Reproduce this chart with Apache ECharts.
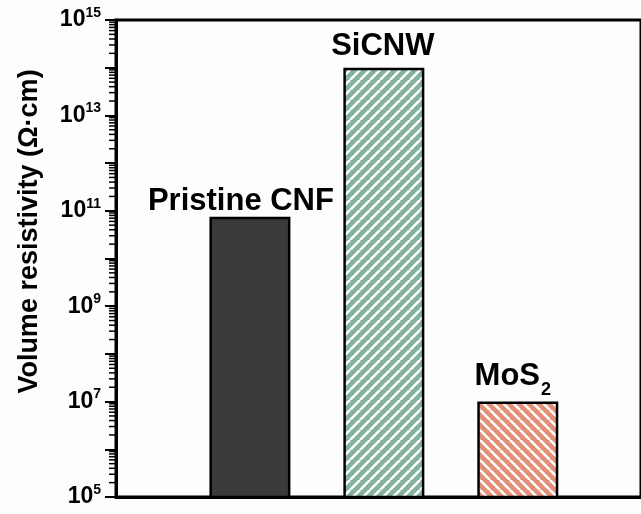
<!DOCTYPE html>
<html>
<head>
<meta charset="utf-8">
<script src="https://cdn.jsdelivr.net/npm/echarts@6/dist/echarts.min.js"></script>
<style>
  html, body { margin: 0; padding: 0; background: #fdfdfd; }
  #chart { width: 641px; height: 514px; }
</style>
</head>
<body>
<div id="chart"></div>
<script>
// data
var categories = ['Pristine CNF', 'SiCNW', 'MoS2'];
var resistivity = [7.5e10, 1.0e14, 1.0e7];
var yMin = 1e5;
var yMax = 1e15;
var labelExps = [5, 7, 9, 11, 13, 15];       // labelled decades
var minorDecades = [5, 6, 7, 8, 9, 10, 11, 12, 13, 14];
var minorSteps = [2, 3, 4, 5, 6, 7, 8, 9];

var FONT = '"Liberation Sans", Arial, sans-serif';

// striped fills
function hatch(bg, dir) {
  var s = 10;
  var c = document.createElement('canvas');
  c.width = s; c.height = s;
  var ctx = c.getContext('2d');
  ctx.fillStyle = bg;
  ctx.fillRect(0, 0, s, s);
  ctx.strokeStyle = '#ffffff';
  ctx.lineWidth = 2.6;
  ctx.beginPath();
  [-s, 0, s].forEach(function (k) {
    if (dir === '/') { ctx.moveTo(k, s); ctx.lineTo(k + s, 0); }
    else { ctx.moveTo(k, 0); ctx.lineTo(k + s, s); }
  });
  ctx.stroke();
  return { image: c, repeat: 'repeat' };
}

var fills = ['#3a3a3a', hatch('#84b29e', '/'), hatch('#e38f78', '\\')];
var labelOffsets = [[-9, 0], [-1, 0], [-5, 0]];
var labelDistances = [0, 6, 10];

var minorVals = [];
minorDecades.forEach(function (d) {
  minorSteps.forEach(function (m) { minorVals.push([0, m * Math.pow(10, d)]); });
});

var chart = echarts.init(document.getElementById('chart'));

var option = {
  backgroundColor: '#fdfdfd',
  animation: false,
  grid: {
    left: 116, right: 0, top: 20, bottom: 17,
    show: true, borderColor: '#000', borderWidth: 3, backgroundColor: 'transparent'
  },
  xAxis: {
    type: 'value',
    min: 0,
    max: 3.92,   // plot runs off the right edge of the picture
    axisLine: { show: true, lineStyle: { color: '#000', width: 3 } },
    axisTick: { show: false },
    axisLabel: { show: false },
    splitLine: { show: false }
  },
  yAxis: {
    type: 'log',
    min: yMin,
    max: yMax,
    interval: 1,
    name: 'Volume resistivity (Ω·cm)',
    nameLocation: 'middle',
    nameGap: 73,
    nameTextStyle: {
      fontFamily: FONT, fontWeight: 'bold', fontSize: 27, color: '#000',
      padding: [0, 0, 0, 54]
    },
    axisLine: { show: true, lineStyle: { color: '#000', width: 3 } },
    axisTick: { show: true, length: 11, inside: false, lineStyle: { color: '#000', width: 2 } },
    splitLine: { show: false },
    axisLabel: {
      margin: 15,
      formatter: function (v) {
        var e = Math.round(Math.log10(v));
        if (labelExps.indexOf(e) < 0) return '';
        return '{b|10}{s|' + e + '}';
      },
      rich: {
        b: { fontFamily: FONT, fontWeight: 'bold', fontSize: 23, color: '#000', lineHeight: 28 },
        s: { fontFamily: FONT, fontWeight: 'bold', fontSize: 14, color: '#000', lineHeight: 14, verticalAlign: 'top' }
      }
    }
  },
  series: [
    {
      type: 'bar',
      barWidth: 81,
      data: categories.map(function (c, i) {
        return {
          name: c,
          value: [i + 1, resistivity[i]],
          itemStyle: { color: fills[i] },
          label: { offset: labelOffsets[i], distance: labelDistances[i] }
        };
      }),
      itemStyle: { borderColor: '#000', borderWidth: 2.5 },
      label: {
        show: true,
        position: 'top',
        formatter: function (p) {
          if (p.name === 'MoS2') return '{tm|MoS}{sub|2}';
          return '{t|' + p.name + '}';
        },
        rich: {
          t: { fontFamily: FONT, fontWeight: 'bold', fontSize: 31, color: '#000', lineHeight: 31 },
          tm: { fontFamily: FONT, fontWeight: 'bold', fontSize: 31, color: '#000', lineHeight: 31, verticalAlign: 'top' },
          sub: { fontFamily: FONT, fontWeight: 'bold', fontSize: 18, color: '#000', lineHeight: 18, padding: [20, 0, 0, 1], verticalAlign: 'top' }
        }
      }
    },
    {
      type: 'custom',
      silent: true,
      clip: false,
      z: 5,
      data: minorVals,
      renderItem: function (params, api) {
        var p = api.coord([api.value(0), api.value(1)]);
        return {
          type: 'line',
          shape: { x1: p[0] - 7, y1: p[1], x2: p[0], y2: p[1] },
          style: { stroke: '#000', lineWidth: 1.5 }
        };
      }
    }
  ]
};

chart.setOption(option);
</script>
</body>
</html>
